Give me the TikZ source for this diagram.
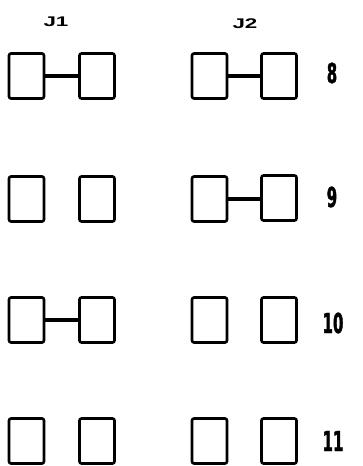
\documentclass[tikz,border=0pt]{standalone}
\usepackage{fontspec}
\newfontfamily\numfont[FakeStretch=0.54,FakeBold=1.5]{DejaVu Sans}
\newfontfamily\jfont[FakeStretch=1.6]{Liberation Sans}
\tikzset{
  pad/.style={draw, line width=2.6pt, rounded corners=2pt, minimum width=35pt, minimum height=45pt, inner sep=0pt},
  link/.style={line width=4pt},
  rowlabel/.style={font=\numfont\bfseries\fontsize{27.5}{27.5}\selectfont, inner sep=0pt},
  jlabel/.style={font=\jfont\bfseries\fontsize{14}{14}\selectfont, inner sep=0pt}
}
\begin{document}
\begin{tikzpicture}[x=1pt,y=-1pt]
\useasboundingbox (0,0) rectangle (362,466);
\node (j1) at (56,22) [jlabel] {J1};
\node (j2) at (245,24) [jlabel] {J2};
% row 8
\node (a8) at (26.5,76) [pad] {};
\node (b8) at (97,76) [pad] {};
\node (c8) at (209.5,76) [pad] {};
\node (d8) at (279,76) [pad] {};
\node (l8) at (332,73) [rowlabel] {8};
\draw[link] (a8) -- (b8);
\draw[link] (c8) -- (d8);
% row 9
\node (a9) at (26.5,199) [pad] {};
\node (b9) at (97,199) [pad] {};
\node (c9) at (209.5,199) [pad] {};
\node (d9) at (279,198) [pad] {};
\node (l9) at (332,197) [rowlabel] {9};
\draw[link] (c9.east) -- (c9.east -| d9.west);
% row 10
\node (a10) at (26.5,320) [pad] {};
\node (b10) at (97,320) [pad] {};
\node (c10) at (209.5,320) [pad] {};
\node (d10) at (279,320) [pad] {};
\node (l10) at (333,323) [rowlabel] {10};
\draw[link] (a10) -- (b10);
% row 11
\node (a11) at (26.5,441) [pad] {};
\node (b11) at (97,441) [pad] {};
\node (c11) at (209.5,441) [pad] {};
\node (d11) at (279,441) [pad] {};
\node (l11) at (333,441) [rowlabel] {11};
\end{tikzpicture}
\end{document}
